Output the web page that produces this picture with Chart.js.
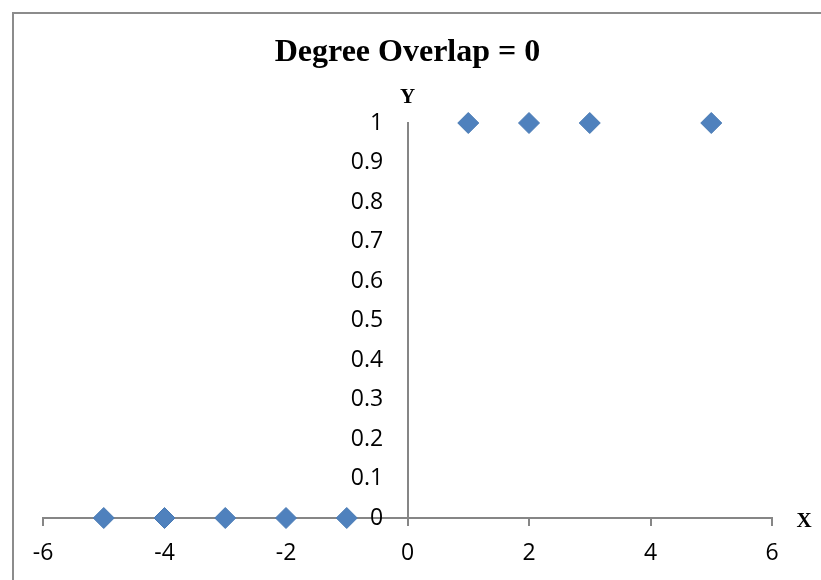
<!DOCTYPE html>
<html>
<head>
<meta charset="utf-8">
<script src="https://cdn.jsdelivr.net/npm/chart.js@4/dist/chart.umd.min.js"></script>
<style>
  html, body { margin: 0; padding: 0; background: #fff; overflow: hidden; }
  #wrap { position: relative; width: 821px; height: 580px; }
  #frame {
    position: absolute; left: 12px; top: 12px; width: 900px; height: 700px;
    border: 2px solid #8c8c8c; pointer-events: none;
  }
</style>
</head>
<body>
<div id="wrap">
  <canvas id="overlapChart"></canvas>
  <div id="frame"></div>
</div>
<script>
// points of the step, x -> y
const xValues = [-5, -4, -3, -2, -1, 1, 2, 3, 5];
const yValues = [0, 0, 0, 0, 0, 1, 1, 1, 1];

const xMin = -6, xMax = 6, xStep = 2;
const yMin = 0, yMax = 1, yStep = 0.1;

const axisGray = '#868686';
const tickFont = { family: 'Open Sans', size: 23 };

// axis letters next to the axis ends
const axisLetters = {
  id: 'axisLetters',
  afterDraw(chart) {
    const { ctx, scales: { x, y }, chartArea } = chart;
    ctx.save();
    ctx.fillStyle = '#000';
    ctx.font = 'bold 21px "Liberation Serif"';
    ctx.textAlign = 'center';
    ctx.textBaseline = 'middle';
    ctx.fillText('Y', x.getPixelForValue(0), chartArea.top - 25);
    ctx.fillText('X', chartArea.right + 32, y.getPixelForValue(0) + 4);
    ctx.restore();
  }
};

const points = xValues.map((v, i) => ({ x: v, y: yValues[i] }));

new Chart(document.getElementById('overlapChart'), {
  type: 'scatter',
  data: {
    datasets: [{
      label: 'Y',
      data: points,
      pointStyle: 'rectRot',
      pointRadius: 10.5,
      pointHoverRadius: 10.5,
      backgroundColor: '#4f81bd',
      borderColor: '#4a7ab4',
      borderWidth: 1,
      clip: false
    }]
  },
  options: {
    responsive: true,
    maintainAspectRatio: false,
    animation: false,
    layout: { padding: { left: 43, right: 49, top: 0, bottom: 62 } },
    plugins: {
      legend: { display: false },
      tooltip: { enabled: false },
      title: {
        display: true,
        text: 'Degree Overlap = 0',
        color: '#000',
        font: { family: 'Liberation Serif', size: 32, weight: 'bold' },
        padding: { top: 34, bottom: 50.6 }
      }
    },
    scales: {
      x: {
        type: 'linear',
        min: xMin, max: xMax,
        position: { y: 0 },
        afterFit: s => { s.height = 0; },
        border: { display: true, color: axisGray, width: 2 },
        grid: { drawOnChartArea: false, drawTicks: true, tickLength: 7, color: axisGray, lineWidth: 2 },
        ticks: { stepSize: xStep, color: '#000', font: tickFont, padding: 15, maxRotation: 0 }
      },
      // the vertical axis line, crossing at x = 0
      y: {
        type: 'linear',
        min: yMin, max: yMax,
        position: { x: 0 },
        afterFit: s => { s.width = 0; },
        border: { display: true, color: axisGray, width: 2 },
        grid: { drawOnChartArea: false, drawTicks: false },
        ticks: { display: false, stepSize: yStep }
      },
      // its labels, set a little left of the line
      yLabels: {
        type: 'linear',
        axis: 'y',
        min: yMin, max: yMax,
        position: { x: -0.4 },
        afterFit: s => { s.width = 0; },
        border: { display: false },
        grid: { display: false },
        ticks: {
          stepSize: yStep, color: '#000', font: tickFont,
          callback: v => +v.toFixed(1)
        }
      }
    }
  },
  plugins: [axisLetters]
});
</script>
</body>
</html>
